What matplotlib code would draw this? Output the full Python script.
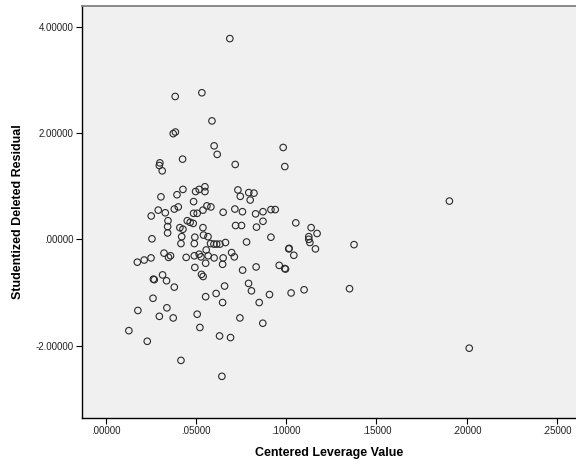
import matplotlib
matplotlib.use("Agg")
import matplotlib.pyplot as plt
from matplotlib.ticker import FuncFormatter

# Centered leverage (x) vs studentized deleted residual (y)
leverage = [
    0.0373, 0.0385, 0.0425, 0.0299, 0.0296, 0.0312, 0.0305, 0.0427, 0.0394, 0.0290,
    0.0329, 0.0251, 0.0379, 0.0401, 0.0344, 0.0342, 0.0342, 0.0410, 0.0255, 0.0416,
    0.0420, 0.0588, 0.0600, 0.0617, 0.0983, 0.0992, 0.0717, 0.0497, 0.0517, 0.0549,
    0.0549, 0.0486, 0.0486, 0.0506, 0.0538, 0.0560, 0.0582, 0.0650, 0.0732, 0.0745,
    0.0792, 0.0821, 0.0800, 0.0715, 0.0757, 0.0830, 0.0871, 0.0915, 0.0939, 0.1053,
    0.0871, 0.0835, 0.0719, 0.0752, 0.0451, 0.0467, 0.0484, 0.0427, 0.0538, 0.0541,
    0.0566, 0.0493, 0.0490, 0.0580, 0.0599, 0.0614, 0.0632, 0.0663, 0.0780, 0.0915,
    0.1016, 0.0174, 0.0212, 0.0250, 0.0322, 0.0347, 0.0358, 0.0445, 0.0314, 0.0263,
    0.0268, 0.0336, 0.0379, 0.0261, 0.0177, 0.0338, 0.0296, 0.0373, 0.0127, 0.0229,
    0.0416, 0.0490, 0.0517, 0.0527, 0.0567, 0.0600, 0.0650, 0.0556, 0.0697, 0.0712,
    0.0553, 0.0493, 0.0647, 0.0758, 0.0833, 0.0530, 0.0539, 0.0961, 0.0992, 0.0996,
    0.1014, 0.1042, 0.0658, 0.0611, 0.0553, 0.0647, 0.0791, 0.0807, 0.0850, 0.0907,
    0.1027, 0.1099, 0.0506, 0.0521, 0.0743, 0.0870, 0.0630, 0.0691, 0.0643, 0.1138,
    0.1171, 0.1125, 0.1125, 0.1131, 0.1162, 0.1376, 0.1351, 0.0687, 0.0384, 0.0532,
    0.1905, 0.2015,
]
residual = [
    1.99, 2.02, 1.51, 1.44, 1.39, 1.29, 0.80, 0.94, 0.84, 0.55,
    0.50, 0.44, 0.57, 0.61, 0.35, 0.24, 0.12, 0.22, 0.01, -0.08,
    0.05, 2.23, 1.76, 1.60, 1.73, 1.37, 1.41, 0.90, 0.94, 0.99,
    0.90, 0.71, 0.49, 0.49, 0.55, 0.63, 0.61, 0.51, 0.93, 0.81,
    0.88, 0.87, 0.74, 0.57, 0.52, 0.48, 0.52, 0.56, 0.56, 0.31,
    0.34, 0.23, 0.26, 0.26, 0.35, 0.32, 0.30, 0.19, 0.22, 0.08,
    0.05, 0.04, -0.08, -0.08, -0.09, -0.09, -0.09, -0.06, -0.05, 0.04,
    -0.17, -0.43, -0.39, -0.35, -0.26, -0.34, -0.31, -0.34, -0.67, -0.75,
    -0.76, -0.78, -0.90, -1.11, -1.34, -1.29, -1.45, -1.48, -1.72, -1.92,
    -2.28, -0.31, -0.28, -0.33, -0.31, -0.35, -0.35, -0.20, -0.25, -0.33,
    -0.45, -0.53, -0.47, -0.58, -0.52, -0.66, -0.70, -0.49, -0.55, -0.56,
    -0.18, -0.30, -0.88, -1.02, -1.08, -1.19, -0.83, -0.97, -1.19, -1.04,
    -1.01, -0.95, -1.41, -1.66, -1.48, -1.58, -1.82, -1.85, -2.58, 0.22,
    0.11, 0.05, 0.00, -0.06, -0.18, -0.10, -0.93, 3.78, 2.69, 2.76,
    0.72, -2.05,
]

x_ticks = [0.0, 0.05, 0.10, 0.15, 0.20, 0.25]
y_ticks = [-2.0, 0.0, 2.0, 4.0]


def spss_fmt(v, pos=None):
    s = f"{v:.5f}"
    if s.startswith("0."):
        s = s[1:]
    elif s.startswith("-0."):
        s = "-" + s[2:]
    return s


plt.rcParams['font.family'] = ['Liberation Sans', 'DejaVu Sans']

fig = plt.figure(figsize=(5.76, 4.68), dpi=100)
ax = fig.add_axes([0.1418, 0.1068, 0.8600, 0.8804])
ax.set_facecolor('#f0f0f0')

ax.scatter(leverage, residual, s=22, facecolors='none', edgecolors='#2a2a2a',
           linewidths=0.8, zorder=3)

ax.set_xlim(-0.01347, 0.2613)
ax.set_ylim(-3.365, 4.394)
ax.set_xticks(x_ticks)
ax.set_yticks(y_ticks)
ax.xaxis.set_major_formatter(FuncFormatter(spss_fmt))
ax.yaxis.set_major_formatter(FuncFormatter(spss_fmt))
ax.tick_params(axis='both', length=4, width=0.8, labelsize=7, colors='black',
               labelcolor='#222222', pad=2)

for side in ['left', 'bottom']:
    ax.spines[side].set_color('black')
    ax.spines[side].set_linewidth(1.0)
ax.spines['top'].set_color('#777777')
ax.spines['top'].set_linewidth(1.2)
ax.spines['right'].set_visible(False)

ax.set_xlabel('Centered Leverage Value', fontsize=9, fontweight='bold', labelpad=8)
ax.set_ylabel('Studentized Deleted Residual', fontsize=9, fontweight='bold', labelpad=8)

fig.savefig('out.png', dpi=100)
